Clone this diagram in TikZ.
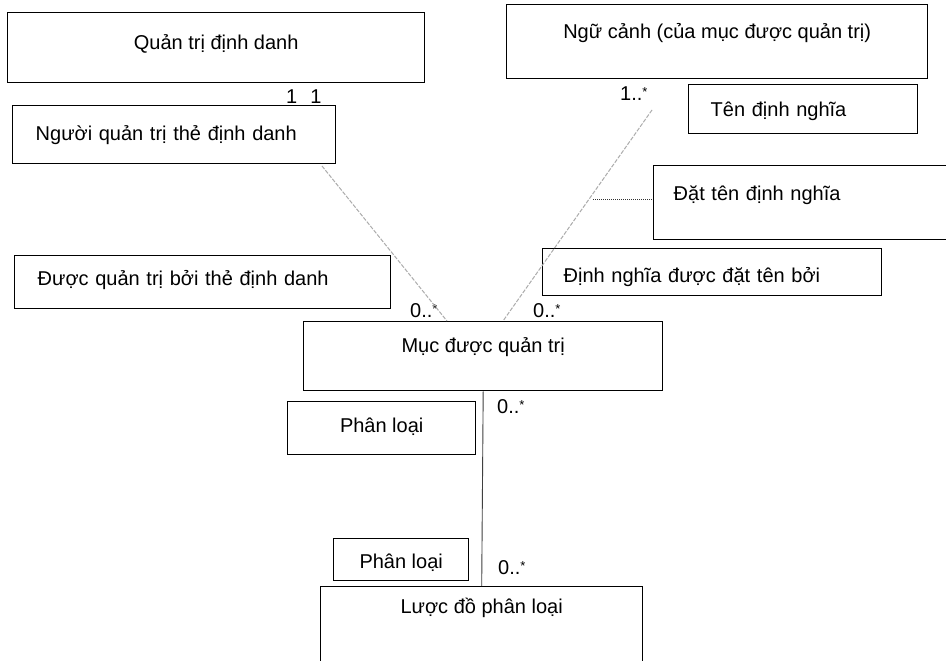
\documentclass[tikz,border=0pt]{standalone}
\usepackage{fontspec}
\setmainfont{Liberation Sans}
\begin{document}
\begin{tikzpicture}[x=1pt,y=-1pt,
  box/.style={draw, line width=1.4pt, inner sep=0pt, anchor=north west,
    font=\fontsize{20}{24}\selectfont},
  lbox/.style={box, align=left, inner xsep=#1},
  mult/.style={inner sep=0pt, anchor=base west, font=\fontsize{20}{24}\selectfont},
  assoc/.style={draw=gray!65, line width=1pt, dash pattern=on 4pt off 1.5pt},
  conn/.style={draw=black!75, line width=0.9pt},
  dotline/.style={draw=black!80, line width=0.8pt, dash pattern=on 1pt off 1pt}]
\useasboundingbox (0,0) rectangle (946,661);
\fill[white] (0,0) rectangle (946,661);
% boxes
\node[box, minimum width=417pt, text height=37pt, text depth=33pt] (qtdd) at (7,12) {Quản trị định danh};
\node[lbox=23pt, text width=277pt, text height=35pt, text depth=23pt] (nqt) at (12,105) {Người quản trị thẻ định danh};
\node[box, minimum width=421pt, text height=34pt, text depth=40pt] (nc) at (506,4) {Ngữ cảnh (của mục được quản trị)};
\node[lbox=22pt, text width=185pt, text height=32pt, text depth=17pt] (tdn) at (688,84) {Tên định nghĩa};
\node[lbox=20pt, text width=257pt, text height=35pt, text depth=39pt] (dtdn) at (653,165) {Đặt tên định nghĩa};
\node[lbox=21pt, text width=297pt, text height=34pt, text depth=13pt] (dnd) at (542,248) {Định nghĩa được đặt tên bởi};
\node[lbox=23pt, text width=330pt, text height=30pt, text depth=23pt] (dqt) at (14,255) {Được quản trị bởi thẻ định danh};
\node[box, minimum width=359pt, text height=31pt, text depth=38pt] (mdq) at (303,321) {Mục được quản trị};
\node[box, minimum width=188pt, text height=31pt, text depth=22pt] (pl1) at (287,401) {Phân loại};
\node[box, minimum width=135pt, text height=30pt, text depth=12pt] (pl2) at (333,538) {Phân loại};
\node[box, minimum width=322pt, text height=27pt, text depth=52pt] (ldpl) at (320,586) {Lược đồ phân loại};
% multiplicities
\node[mult] (m11) at (286,103) {1\hspace{13pt}1};
\node[mult] (m1n) at (620,101) {1..\raisebox{4pt}{\fontsize{13}{14}\selectfont*}};
\node[mult] (m0a) at (410,317) {0..\raisebox{4pt}{\fontsize{13}{14}\selectfont*}};
\node[mult] (m0b) at (533,317) {0..\raisebox{4pt}{\fontsize{13}{14}\selectfont*}};
\node[mult] (m0c) at (497,413) {0..\raisebox{4pt}{\fontsize{13}{14}\selectfont*}};
\node[mult] (m0d) at (498,574) {0..\raisebox{4pt}{\fontsize{13}{14}\selectfont*}};
% connectors
\coordinate (la) at (322,166);
\coordinate (lb) at (447,321);
\path[assoc] (la) -- (lb);
\coordinate (ra) at (652,110);
\coordinate (rb) at (503,321);
\path[assoc] (ra) -- (rb);
\coordinate (dl) at (593,199);
\path[dotline] (dl) -- (dl -| dtdn.west);
\path[conn] (mdq.south) -- (ldpl.north);
\end{tikzpicture}
\end{document}
